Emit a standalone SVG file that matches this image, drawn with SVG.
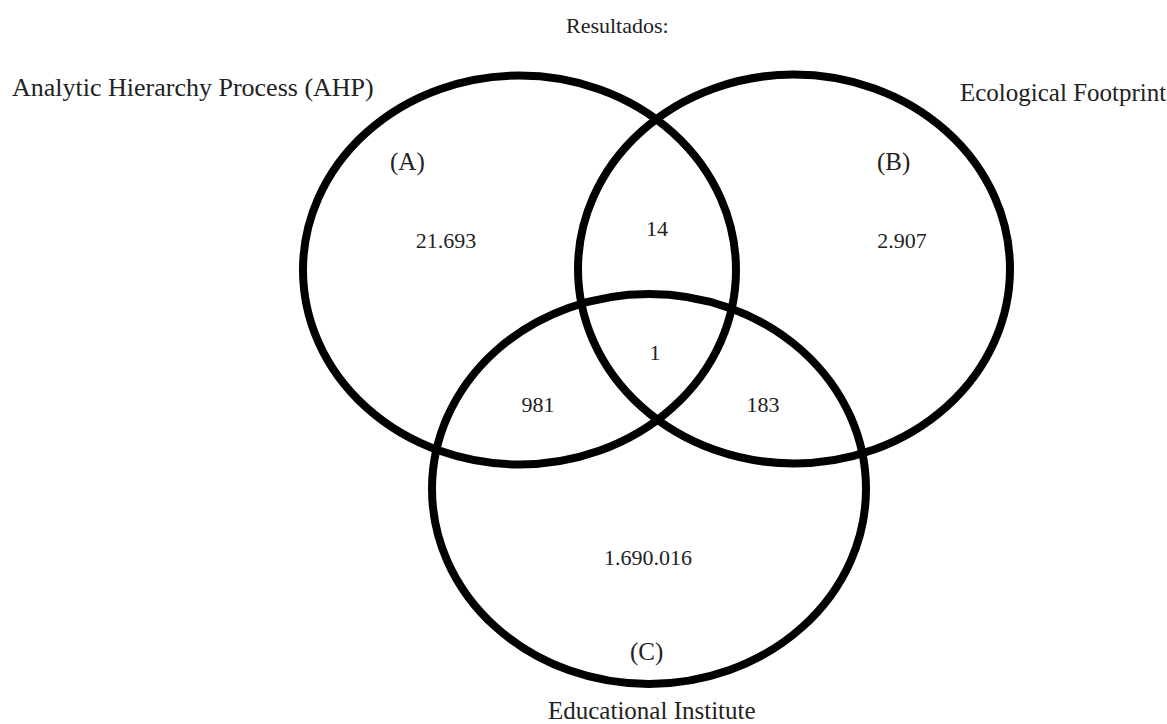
<svg xmlns="http://www.w3.org/2000/svg" width="1167" height="724" viewBox="0 0 1167 724">
<style>
.set{fill:none;stroke:#000;stroke-width:8}
.lbl{font-family:"Liberation Serif","Times New Roman",serif;font-size:25px;fill:#222}
.num{font-family:"Liberation Serif","Times New Roman",serif;font-size:22px;fill:#222;text-anchor:middle}
</style>
<rect width="1167" height="724" fill="#fff"/>
<text class="lbl" x="566" y="33" style="font-size:22px">Resultados:</text>
<g id="setA">
<ellipse class="set" cx="519.5" cy="270" rx="216.5" ry="194.5"/>
<text class="lbl" x="12" y="96" style="font-size:26px">Analytic Hierarchy Process (AHP)</text>
<text class="lbl" x="390" y="170">(A)</text>
<text class="num" x="446" y="248">21.693</text>
</g>
<g id="setB">
<ellipse class="set" cx="794" cy="269" rx="216" ry="194.5"/>
<text class="lbl" x="960" y="101">Ecological Footprint</text>
<text class="lbl" x="877" y="170">(B)</text>
<text class="num" x="902" y="248">2.907</text>
</g>
<g id="setC">
<ellipse class="set" cx="649" cy="489" rx="217" ry="195"/>
<text class="lbl" x="548" y="719">Educational Institute</text>
<text class="lbl" x="630" y="660">(C)</text>
<text class="num" x="648" y="565">1.690.016</text>
</g>
<g id="intersections">
<text class="num" x="657" y="236">14</text>
<text class="num" x="655" y="360">1</text>
<text class="num" x="538" y="412">981</text>
<text class="num" x="763" y="412">183</text>
</g>
<g id="connectors"/>
</svg>
